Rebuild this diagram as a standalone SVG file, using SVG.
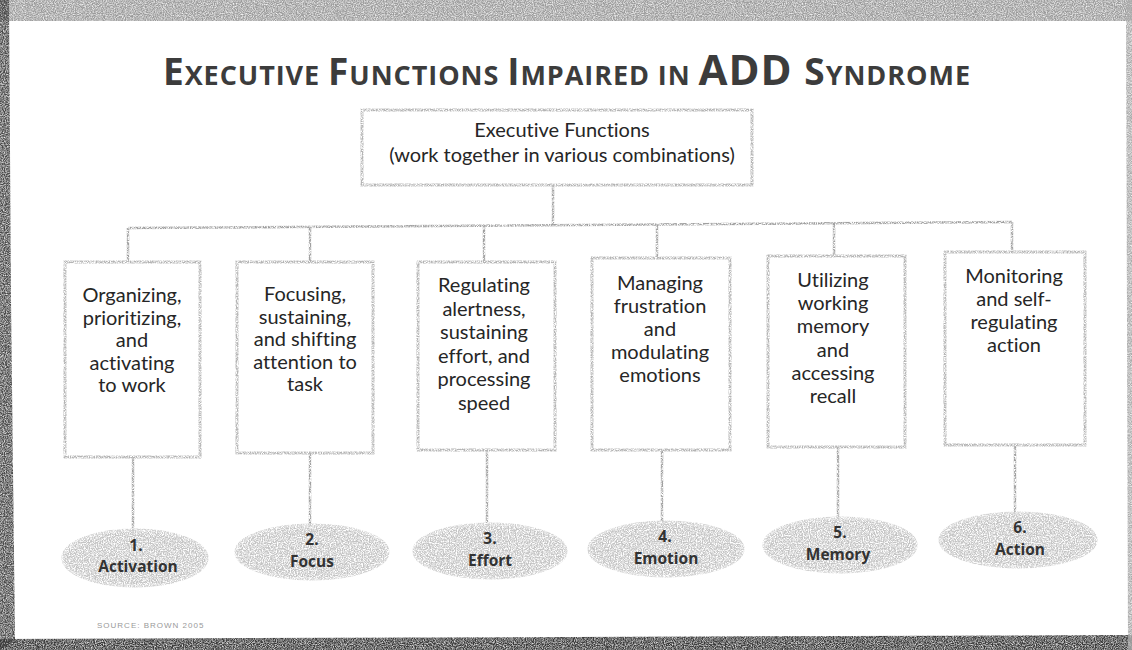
<svg xmlns="http://www.w3.org/2000/svg" width="1132" height="650" viewBox="0 0 1132 650">
<defs>
<filter id="speckle" filterUnits="userSpaceOnUse" x="0" y="0" width="1132" height="650">
<feTurbulence type="fractalNoise" baseFrequency="0.85" numOctaves="2" seed="4" result="n"/>
<feColorMatrix in="n" type="matrix" values="0 0 0 0 0  0 0 0 0 0  0 0 0 0 0  0 0 0 -3 2.1" result="m"/>
<feComposite in="SourceGraphic" in2="m" operator="in"/>
</filter>
<filter id="soft" filterUnits="userSpaceOnUse" x="0" y="0" width="1132" height="650">
<feTurbulence type="fractalNoise" baseFrequency="0.9" numOctaves="2" seed="7" result="n"/>
<feColorMatrix in="n" type="matrix" values="0 0 0 0 0  0 0 0 0 0  0 0 0 0 0  0 0 0 -1.6 1.5" result="m"/>
<feComposite in="SourceGraphic" in2="m" operator="in"/>
</filter>
<style>
.bg{filter:url(#soft)}
.box{fill:#fff;stroke:#b4b4b4;stroke-width:3;filter:url(#speckle)}
.ell{fill:#c4c4c4;stroke:#d0d0d0;stroke-width:3;filter:url(#speckle)}
.conn line{stroke:#a0a0a0;stroke-width:2.5;filter:url(#speckle)}
.t{font-family:Lato,"Open Sans","Liberation Sans",sans-serif;font-size:20px;fill:#262626;text-anchor:middle;font-variant-ligatures:none}
.lab{font-family:"Open Sans","Liberation Sans",sans-serif;font-size:15.5px;font-weight:bold;fill:#333;text-anchor:middle}
.title{font-family:"Open Sans","Liberation Sans",sans-serif;font-weight:bold;fill:#3c3c3c}
</style>
</defs>
<rect x="0" y="0" width="1132" height="650" fill="#fff"/>
<g id="scan-edges">
<rect class="bg" x="0" y="0" width="1132" height="21" fill="#9a9a9a"/>
<polygon class="bg" points="0,0 9,0 11,300 15,640 0,650" fill="#4a4a4a"/>
<polygon class="bg" points="0,639 1132,635 1132,650 0,650" fill="#383838"/>
<polygon class="bg" points="1126,0 1132,0 1132,650 1128,650" fill="#aaaaaa"/>
</g>
<g id="title">
<text class="title" x="163" y="85" textLength="807" lengthAdjust="spacing"><tspan font-size="37">E</tspan><tspan font-size="27">XECUTIVE </tspan><tspan font-size="37">F</tspan><tspan font-size="27">UNCTIONS </tspan><tspan font-size="37">I</tspan><tspan font-size="27">MPAIRED IN </tspan><tspan font-size="42">ADD </tspan><tspan font-size="37">S</tspan><tspan font-size="27">YNDROME</tspan></text>
</g>
<g class="conn" id="connectors">
<line x1="553" y1="185" x2="553" y2="225"/>
<line x1="128" y1="228" x2="1012" y2="222"/>
<line x1="128" y1="228" x2="128" y2="262"/>
<line x1="310" y1="227" x2="310" y2="262"/>
<line x1="484" y1="226" x2="484" y2="262"/>
<line x1="657" y1="225" x2="657" y2="258"/>
<line x1="834" y1="223" x2="834" y2="256"/>
<line x1="1012" y1="222" x2="1012" y2="252"/>
<line x1="133" y1="457" x2="133" y2="531"/>
<line x1="310" y1="453" x2="310" y2="526"/>
<line x1="487" y1="450" x2="487" y2="525"/>
<line x1="662" y1="450" x2="662" y2="523"/>
<line x1="838" y1="447" x2="838" y2="519"/>
<line x1="1015" y1="445" x2="1015" y2="514"/>
</g>
<g id="root">
<rect class="box" x="362" y="110" width="390" height="75"/>
<text class="t" x="562" y="137" font-size="20">Executive Functions</text>
<text class="t" x="562" y="162" font-size="20">(work together in various combinations)</text>
</g>
<g id="box1">
<rect class="box" x="65" y="262" width="135" height="195"/>
<text class="t" x="132" y="302">Organizing,</text>
<text class="t" x="132" y="324.5">prioritizing,</text>
<text class="t" x="132" y="347">and</text>
<text class="t" x="132" y="369.5">activating</text>
<text class="t" x="132" y="392">to work</text>
</g>
<g id="box2">
<rect class="box" x="237" y="262" width="136" height="191"/>
<text class="t" x="305" y="301">Focusing,</text>
<text class="t" x="305" y="323.5">sustaining,</text>
<text class="t" x="305" y="346">and shifting</text>
<text class="t" x="305" y="368.5">attention to</text>
<text class="t" x="305" y="391">task</text>
</g>
<g id="box3">
<rect class="box" x="418" y="262" width="137" height="188"/>
<text class="t" x="484" y="292">Regulating</text>
<text class="t" x="484" y="315.5">alertness,</text>
<text class="t" x="484" y="339">sustaining</text>
<text class="t" x="484" y="362.5">effort, and</text>
<text class="t" x="484" y="386">processing</text>
<text class="t" x="484" y="409.5">speed</text>
</g>
<g id="box4">
<rect class="box" x="592" y="258" width="138" height="192"/>
<text class="t" x="660" y="290">Managing</text>
<text class="t" x="660" y="313">frustration</text>
<text class="t" x="660" y="336">and</text>
<text class="t" x="660" y="359">modulating</text>
<text class="t" x="660" y="382">emotions</text>
</g>
<g id="box5">
<rect class="box" x="768" y="256" width="137" height="191"/>
<text class="t" x="833" y="287">Utilizing</text>
<text class="t" x="833" y="310">working</text>
<text class="t" x="833" y="333">memory</text>
<text class="t" x="833" y="356.5">and</text>
<text class="t" x="833" y="380">accessing</text>
<text class="t" x="833" y="403">recall</text>
</g>
<g id="box6">
<rect class="box" x="945" y="252" width="140" height="193"/>
<text class="t" x="1014" y="283">Monitoring</text>
<text class="t" x="1014" y="306">and self-</text>
<text class="t" x="1014" y="329">regulating</text>
<text class="t" x="1014" y="352">action</text>
</g>
<g id="e1">
<ellipse class="ell" cx="135" cy="558" rx="72" ry="28"/>
<text class="lab" x="136" y="551">1.</text>
<text class="lab" x="138" y="572">Activation</text>
</g>
<g id="e2">
<ellipse class="ell" cx="312" cy="552" rx="76" ry="27"/>
<text class="lab" x="312" y="545">2.</text>
<text class="lab" x="312" y="567">Focus</text>
</g>
<g id="e3">
<ellipse class="ell" cx="490" cy="551" rx="76" ry="27"/>
<text class="lab" x="490" y="544">3.</text>
<text class="lab" x="490" y="566">Effort</text>
</g>
<g id="e4">
<ellipse class="ell" cx="666" cy="549" rx="77" ry="27"/>
<text class="lab" x="665" y="542">4.</text>
<text class="lab" x="666" y="564">Emotion</text>
</g>
<g id="e5">
<ellipse class="ell" cx="840" cy="545" rx="76" ry="27"/>
<text class="lab" x="840" y="538">5.</text>
<text class="lab" x="838" y="560">Memory</text>
</g>
<g id="e6">
<ellipse class="ell" cx="1018" cy="540" rx="78" ry="27"/>
<text class="lab" x="1020" y="533">6.</text>
<text class="lab" x="1020" y="555">Action</text>
</g>
<g id="source">
<text x="97" y="628" font-family="Liberation Sans, sans-serif" font-size="8" fill="#999" letter-spacing="1">SOURCE: BROWN 2005</text>
</g>
</svg>
